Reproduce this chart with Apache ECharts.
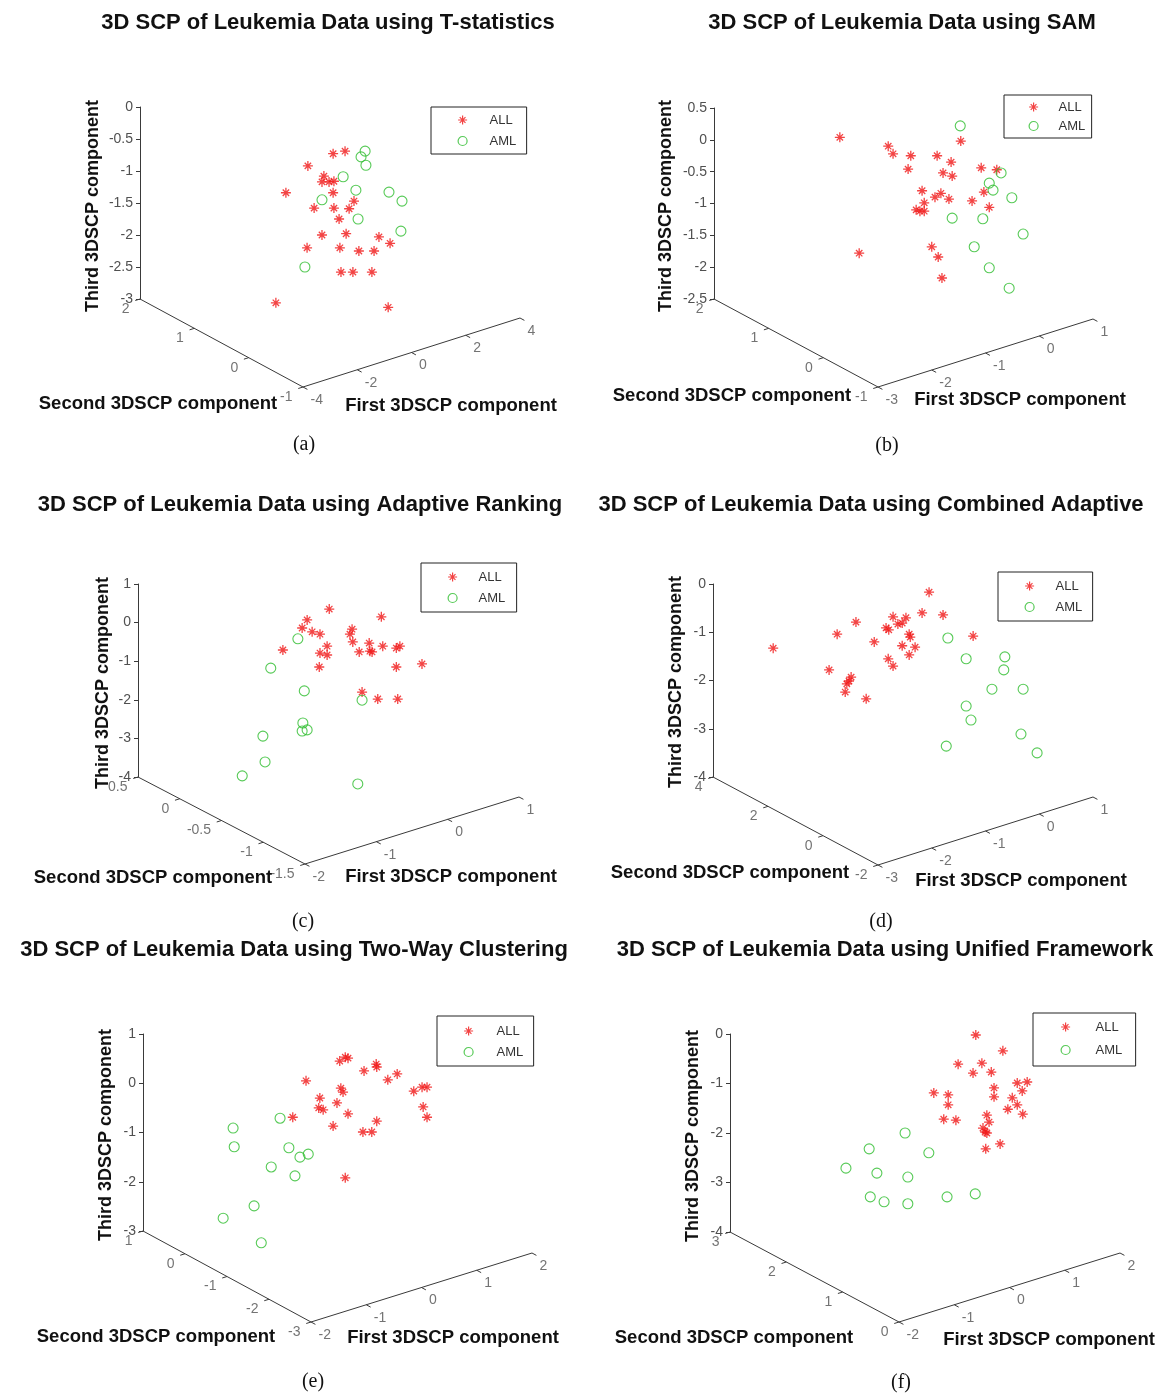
<!DOCTYPE html>
<html><head><meta charset="utf-8">
<script src="https://cdn.jsdelivr.net/npm/echarts@6/dist/echarts.min.js"></script>
<style>html,body{margin:0;padding:0;background:#fff}#c{width:1162px;height:1393px}</style>
</head><body><div id="c"></div>
<script>
// ---- DATA: [First 3DSCP component (apparent), Third 3DSCP component (apparent)] ----
const aAll = [[-3.82,-0.92],[-4.63,-1.34],[-3.85,-2.20],[-5.00,-3.06],[-2.89,-0.73],[-2.45,-0.69],[-3.23,-1.08],[-3.30,-1.17],[-3.04,-1.17],[-2.86,-1.16],[-2.89,-1.34],[-2.12,-1.47],[-3.59,-1.58],[-2.86,-1.58],[-2.30,-1.59],[-2.67,-1.75],[-3.30,-2.00],[-2.41,-1.98],[-1.20,-2.03],[-0.79,-2.13],[-2.64,-2.20],[-1.94,-2.25],[-1.38,-2.25],[-2.60,-2.58],[-2.16,-2.58],[-1.46,-2.58],[-0.86,-3.13]];
const aAml = [[-1.71,-0.69],[-1.86,-0.78],[-1.68,-0.91],[-2.52,-1.09],[-2.05,-1.30],[-0.83,-1.33],[-3.30,-1.45],[-0.35,-1.47],[-1.97,-1.75],[-0.39,-1.94],[-3.93,-2.50]];
const bAll = [[-3.71,0.04],[-3.35,-1.78],[-2.81,-0.10],[-2.72,-0.22],[-2.39,-0.25],[-1.90,-0.25],[-1.46,-0.02],[-1.64,-0.35],[-2.44,-0.46],[-1.79,-0.52],[-1.62,-0.57],[-1.08,-0.44],[-0.79,-0.47],[-2.18,-0.80],[-1.83,-0.84],[-1.94,-0.90],[-1.68,-0.93],[-2.14,-0.99],[-1.03,-0.82],[-1.25,-0.96],[-0.93,-1.06],[-2.29,-1.10],[-2.22,-1.12],[-2.14,-1.12],[-2.00,-1.68],[-1.88,-1.84],[-1.81,-2.17]];
const bAml = [[-1.47,0.22],[-0.71,-0.52],[-0.93,-0.68],[-0.86,-0.79],[-0.51,-0.91],[-1.62,-1.23],[-1.05,-1.24],[-0.30,-1.48],[-1.21,-1.68],[-0.93,-2.01],[-0.56,-2.33]];
const cAll = [[-1.97,0.07],[-2.04,-0.14],[-2.31,-0.71],[-1.66,0.35],[-1.90,-0.24],[-1.79,-0.30],[-0.93,0.15],[-1.34,-0.17],[-1.37,-0.30],[-1.33,-0.50],[-1.69,-0.61],[-1.79,-0.79],[-1.69,-0.84],[-1.80,-1.15],[-1.24,-0.76],[-1.10,-0.53],[-1.09,-0.74],[-1.06,-0.76],[-0.91,-0.61],[-0.72,-0.66],[-0.67,-0.61],[-0.72,-1.15],[-0.36,-1.07],[-1.20,-1.80],[-0.98,-1.98],[-0.70,-1.98]];
const cAml = [[-2.10,-0.42],[-2.48,-1.18],[-2.01,-1.77],[-2.03,-2.60],[-2.04,-2.81],[-1.97,-2.78],[-2.59,-2.94],[-2.56,-3.61],[-2.88,-3.97],[-1.20,-2.01],[-1.26,-4.18]];
const dAll = [[-4.95,-1.33],[-3.41,-0.79],[-3.76,-1.04],[-3.07,-1.20],[-3.91,-1.78],[-3.50,-1.93],[-3.54,-2.01],[-3.58,-2.07],[-3.61,-2.24],[-3.22,-2.38],[-2.05,-0.17],[-2.18,-0.60],[-1.79,-0.64],[-2.72,-0.68],[-2.48,-0.70],[-2.55,-0.81],[-2.63,-0.83],[-2.85,-0.91],[-2.80,-0.95],[-2.42,-1.04],[-2.40,-1.10],[-1.23,-1.08],[-2.55,-1.28],[-2.31,-1.31],[-2.42,-1.47],[-2.81,-1.55],[-2.72,-1.70]];
const dAml = [[-1.70,-1.12],[-1.36,-1.55],[-0.64,-1.51],[-0.66,-1.78],[-0.88,-2.18],[-0.30,-2.18],[-1.36,-2.53],[-1.27,-2.82],[-0.34,-3.11],[-1.73,-3.36],[-0.04,-3.50]];
const eAll = [[-2.33,-0.69],[-1.48,0.45],[-1.38,0.53],[-1.33,0.51],[-1.04,0.25],[-0.82,0.39],[-0.81,0.33],[-0.44,0.19],[-0.61,0.07],[-2.09,0.05],[-1.46,-0.10],[-1.42,-0.18],[-0.14,-0.16],[0.01,-0.08],[0.10,-0.08],[-1.84,-0.30],[-1.53,-0.40],[-1.86,-0.50],[-1.78,-0.54],[-1.33,-0.62],[0.03,-0.48],[0.10,-0.69],[-0.81,-0.77],[-1.60,-0.87],[-1.06,-0.99],[-0.90,-0.99],[-1.38,-1.92]];
const eAml = [[-2.56,-0.71],[-3.41,-0.91],[-3.39,-1.29],[-2.40,-1.31],[-2.72,-1.70],[-2.20,-1.50],[-2.05,-1.44],[-2.29,-1.88],[-3.03,-2.49],[-3.59,-2.74],[-2.90,-3.24]];
const fAll = [[-0.61,-0.02],[-0.12,-0.34],[-0.93,-0.61],[-0.50,-0.59],[-0.66,-0.79],[-0.33,-0.77],[0.14,-0.99],[0.32,-0.97],[0.23,-1.15],[-0.28,-1.09],[-0.28,-1.27],[-1.37,-1.19],[-1.11,-1.23],[-1.11,-1.43],[0.05,-1.29],[0.14,-1.43],[-0.03,-1.52],[0.24,-1.62],[-1.19,-1.72],[-0.97,-1.74],[-0.41,-1.64],[-0.37,-1.78],[-0.48,-1.90],[-0.44,-1.98],[-0.41,-2.00],[-0.17,-2.22],[-0.43,-2.32]];
const fAml = [[-1.89,-2.00],[-2.54,-2.32],[-1.46,-2.40],[-2.96,-2.71],[-2.40,-2.81],[-1.84,-2.89],[-2.52,-3.29],[-2.27,-3.39],[-1.84,-3.43],[-1.13,-3.29],[-0.62,-3.23]];

// ---- TICK LABELS ----
const aFirstTicks = [-4,-2,0,2,4], aSecondTicks = [2,1,0,-1], aThirdTicks = [-3,-2.5,-2,-1.5,-1,-0.5,0];
const bFirstTicks = [-3,-2,-1,0,1], bSecondTicks = [2,1,0,-1], bThirdTicks = [-2.5,-2,-1.5,-1,-0.5,0,0.5];
const cFirstTicks = [-2,-1,0,1], cSecondTicks = [0.5,0,-0.5,-1,-1.5], cThirdTicks = [-4,-3,-2,-1,0,1];
const dFirstTicks = [-3,-2,-1,0,1], dSecondTicks = [4,2,0,-2], dThirdTicks = [-4,-3,-2,-1,0];
const eFirstTicks = [-2,-1,0,1,2], eSecondTicks = [1,0,-1,-2,-3], eThirdTicks = [-3,-2,-1,0,1];
const fFirstTicks = [-2,-1,0,1,2], fSecondTicks = [3,2,1,0], fThirdTicks = [-4,-3,-2,-1,0];

const titles = ['3D SCP of Leukemia Data using T-statistics','3D SCP of Leukemia Data using SAM',
  '3D SCP of Leukemia Data using Adaptive Ranking','3D SCP of Leukemia Data using Combined Adaptive',
  '3D SCP of Leukemia Data using Two-Way Clustering','3D SCP of Leukemia Data using Unified Framework'];
const captions = ['(a)','(b)','(c)','(d)','(e)','(f)'];
const seriesNames = ['ALL','AML'];
const axisNames = ['First 3DSCP component','Second 3DSCP component','Third 3DSCP component'];

// ---- LAYOUT (pixels) ----
const layouts = [
 {C:[140,299], zt:107, B:[303,387], E:[520,318], title:[328,23], cap:[304,445], nSecond:[158,404], nFirst:[451,406], nThird:[93,206], leg:{box:[431,107,526,154], ic:31, tx:58, rows:[120,141]}},
 {C:[714,299], zt:108, B:[878,387], E:[1093,319], title:[902,23], cap:[887,446], nSecond:[732,396], nFirst:[1020,400], nThird:[666,206], leg:{box:[1004,95,1091,138], ic:29, tx:54, rows:[107,126]}},
 {C:[138,777], zt:584, B:[305,864], E:[519,797], title:[300,505], cap:[303,922], nSecond:[153,878], nFirst:[451,877], nThird:[103,683], leg:{box:[421,563,516,612], ic:31, tx:57, rows:[577,598]}},
 {C:[713,777], zt:584, B:[878,865], E:[1093,797], title:[871,505], cap:[881,922], nSecond:[730,873], nFirst:[1021,881], nThird:[676,682], leg:{box:[998,572,1092,621], ic:31, tx:57, rows:[586,607]}},
 {C:[143,1231], zt:1034, B:[311,1322], E:[532,1253], title:[294,950], cap:[313,1382], nSecond:[156,1337], nFirst:[453,1338], nThird:[106,1135], leg:{box:[437,1016,533,1066], ic:31, tx:59, rows:[1031,1052]}},
 {C:[730,1232], zt:1034, B:[899,1322], E:[1120,1253], title:[885,950], cap:[901,1383], nSecond:[734,1338], nFirst:[1049,1340], nThird:[693,1136], leg:{box:[1033,1013,1135,1066], ic:32, tx:62, rows:[1027,1050]}}
];
const panelData = [
 {all:aAll, aml:aAml, first:aFirstTicks, second:aSecondTicks, third:aThirdTicks},
 {all:bAll, aml:bAml, first:bFirstTicks, second:bSecondTicks, third:bThirdTicks},
 {all:cAll, aml:cAml, first:cFirstTicks, second:cSecondTicks, third:cThirdTicks},
 {all:dAll, aml:dAml, first:dFirstTicks, second:dSecondTicks, third:dThirdTicks},
 {all:eAll, aml:eAml, first:eFirstTicks, second:eSecondTicks, third:eThirdTicks},
 {all:fAll, aml:fAml, first:fFirstTicks, second:fSecondTicks, third:fThirdTicks}
];

const FONT = '"Liberation Sans", Arial, Helvetica, sans-serif';
const SERIF = '"Liberation Serif", "Times New Roman", serif';
const STAR = 'path://M5,0L5,10M0,5L10,5M1.8,1.8L8.2,8.2M1.8,8.2L8.2,1.8';
const RED = '#f01515', GREEN = '#2dbd2d', AXC = '#3a3a3a', LBLC = '#505050';

const option = {backgroundColor:'#fff', animation:false, grid:[], xAxis:[], yAxis:[], legend:[], series:[], graphic:[]};

const lerp = (a,b,t)=>[a[0]+(b[0]-a[0])*t, a[1]+(b[1]-a[1])*t];
const unit = (a,b)=>{const dx=b[0]-a[0], dy=b[1]-a[1], n=Math.hypot(dx,dy); return [dx/n, dy/n];};
function txt(x,y,text,opts){
  return Object.assign({type:'text', x:x, y:y, silent:true, z:10,
    style:Object.assign({text:text, fill:'#111', align:'center', verticalAlign:'middle', textAlign:'center', textVerticalAlign:'middle'}, opts.style||{})},
    opts.rotation!==undefined?{rotation:opts.rotation}:{});
}

layouts.forEach((L,i)=>{
  const P = panelData[i];
  const fx0 = P.first[0], fx1 = P.first[P.first.length-1];
  const z0 = P.third[0], z1 = P.third[P.third.length-1], zi = +(P.third[1]-P.third[0]).toFixed(6);
  const sx = (fx1-fx0)/(L.E[0]-L.B[0]);
  const sz = (z1-z0)/(L.C[1]-L.zt);
  const toData = q => [fx0+(q[0]-L.B[0])*sx, z0+(L.C[1]-q[1])*sz];

  option.grid.push({left:L.C[0], top:L.zt, width:L.E[0]-L.C[0], height:L.C[1]-L.zt});
  option.xAxis.push({gridIndex:i, type:'value', min:toData(L.C)[0], max:fx1, show:false, splitLine:{show:false}});
  option.yAxis.push({gridIndex:i, type:'value', min:z0, max:z1, interval:zi,
    axisLine:{show:true, onZero:false, lineStyle:{color:AXC, width:1}},
    axisTick:{show:true, length:4, lineStyle:{color:AXC, width:1}},
    axisLabel:{color:LBLC, fontSize:14, fontFamily:FONT, margin:7},
    splitLine:{show:false}});

  // oblique axes (Second: C->B, First: B->E) with out-pointing ticks
  const segs = [[L.C,L.B],[L.B,L.E]];
  const tickLabels = [];
  const s0 = P.second[0], s1 = P.second[P.second.length-1];
  const dirY = unit(L.E,L.B), dirX = unit(L.C,L.B);
  P.second.forEach(v=>{
    const q = lerp(L.C,L.B,(s0-v)/(s0-s1));
    segs.push([q,[q[0]+5*dirY[0], q[1]+5*dirY[1]]]);
    tickLabels.push({value:toData(q), label:{show:true, position:'left', distance:10, offset:[0,10], formatter:String(v)}});
  });
  P.first.forEach(v=>{
    const q = lerp(L.B,L.E,(v-fx0)/(fx1-fx0));
    segs.push([q,[q[0]+5*dirX[0], q[1]+5*dirX[1]]]);
    tickLabels.push({value:toData(q), label:{show:true, position:'right', distance:7, offset:[0,13], formatter:String(v)}});
  });
  option.series.push({type:'lines', coordinateSystem:'cartesian2d', xAxisIndex:i, yAxisIndex:i, polyline:false, clip:false, silent:true, z:2,
    lineStyle:{color:AXC, width:1, opacity:1, curveness:0},
    data:segs.map(s=>({coords:[toData(s[0]), toData(s[1])]}))});
  option.series.push({type:'scatter', xAxisIndex:i, yAxisIndex:i, clip:false, silent:true, z:2, symbolSize:1,
    itemStyle:{color:'rgba(0,0,0,0)'},
    label:{color:LBLC, fontSize:14, fontFamily:FONT},
    data:tickLabels});

  option.series.push({name:seriesNames[0], type:'scatter', xAxisIndex:i, yAxisIndex:i, clip:false, z:4,
    symbol:STAR, symbolSize:10, itemStyle:{color:'rgba(0,0,0,0)', borderColor:RED, borderWidth:1.3}, data:P.all});
  option.series.push({name:seriesNames[1], type:'scatter', xAxisIndex:i, yAxisIndex:i, clip:false, z:4,
    symbol:'circle', symbolSize:10, itemStyle:{color:'rgba(0,0,0,0)', borderColor:GREEN, borderWidth:1.1}, data:P.aml});

  // legend box (item height is governed by text height ~13px)
  const g = L.leg, iw = 2*(g.tx-g.ic-5), ih = 9, H = 13;
  const pl = g.ic-4.5, pt = g.rows[0]-g.box[1]-H/2, gap = g.rows[1]-g.rows[0]-H, pb = g.box[3]-g.rows[1]-H/2;
  const pr = Math.max(2,(g.box[2]-g.box[0])-g.tx-26.7);
  option.legend.push({left:g.box[0], top:g.box[1], orient:'vertical', data:seriesNames, selectedMode:false,
    itemWidth:iw, itemHeight:ih, itemGap:gap, padding:[pt,pr,pb,pl], symbolKeepAspect:true,
    borderColor:'#222', borderWidth:1, backgroundColor:'#fff', borderRadius:0,
    itemStyle:{borderWidth:1.2},
    textStyle:{fontSize:13, color:'#333', fontFamily:FONT}});

  // texts
  option.graphic.push(txt(L.title[0],L.title[1],titles[i],{style:{fontSize:22, fontWeight:'bold', fontFamily:FONT}}));
  option.graphic.push(txt(L.cap[0],L.cap[1],captions[i],{style:{fontSize:20, fontFamily:SERIF}}));
  option.graphic.push(txt(L.nFirst[0],L.nFirst[1],axisNames[0],{style:{fontSize:18.5, fontWeight:'bold', fontFamily:FONT}}));
  option.graphic.push(txt(L.nSecond[0],L.nSecond[1],axisNames[1],{style:{fontSize:18.5, fontWeight:'bold', fontFamily:FONT}}));
  option.graphic.push(txt(L.nThird[0],L.nThird[1],axisNames[2],{rotation:Math.PI/2, style:{fontSize:18, fontWeight:'bold', fontFamily:FONT}}));
});

const chart = echarts.init(document.getElementById('c'), null, {renderer:'canvas'});
chart.setOption(option);
</script></body></html>
